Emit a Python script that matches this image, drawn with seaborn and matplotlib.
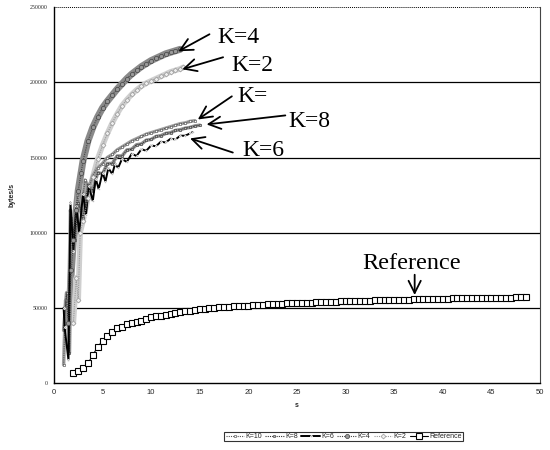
import matplotlib
matplotlib.use("Agg")
import matplotlib.pyplot as plt
import seaborn as sns

# ---------------- data ----------------
k10_x = [1.0, 1.2, 1.5, 1.7, 2.0, 2.4, 2.8, 3.2, 3.6, 4.0, 4.5, 5.0, 5.5, 6.0, 6.5,
         7.0, 7.5, 8.0, 8.5, 9.0, 9.5, 10.0, 10.5, 11.0, 11.5, 12.0, 12.5, 13.0, 13.5, 14.0, 14.5]
k10_y = [12000, 55000, 45000, 115000, 100000, 125000, 115000, 135000, 130000, 138000,
         143000, 146000, 150000, 152000, 155000, 157000, 159000, 161000, 162500, 164000,
         165500, 166500, 167500, 168500, 169500, 170500, 171500, 172500, 173000, 174000, 174500]

k8_x = [1.0, 1.3, 1.6, 1.8, 2.2, 2.5, 3.0, 3.5, 4.0, 4.5, 5.0, 5.5, 6.0, 6.5, 7.0, 7.5,
        8.0, 8.5, 9.0, 9.5, 10.0, 10.5, 11.0, 11.5, 12.0, 12.5, 13.0, 13.5, 14.0, 14.5, 15.0]
k8_y = [35000, 60000, 20000, 110000, 95000, 120000, 110000, 132000, 128000, 140000,
        139000, 146000, 146000, 151000, 151000, 155000, 155500, 158500, 159000, 161500,
        162000, 164000, 164500, 166000, 166500, 168000, 168500, 169500, 170000, 171000, 171500]

k6_x = [1.0, 1.1, 1.5, 1.7, 2.0, 2.3, 2.6, 3.0, 3.3, 3.6, 4.0, 4.3, 4.6, 5.0, 5.3, 5.6,
        6.0, 6.3, 6.6, 7.0, 7.5, 8.0, 8.5, 9.0, 9.5, 10.0, 10.5, 11.0, 11.5, 12.0, 12.5,
        13.0, 13.5, 14.0, 14.3]
k6_y = [50000, 37000, 15000, 120000, 88000, 118000, 100000, 126000, 112000, 131000,
        121000, 136000, 129000, 140000, 134000, 143000, 139000, 146000, 143000, 149000,
        147000, 152500, 151000, 155500, 154500, 158000, 157500, 160500, 160000, 162500,
        162000, 164500, 164500, 166000, 167000]

k4_x = [1.5, 1.8, 2.0, 2.3, 2.5, 2.8, 3.0, 3.5, 4.0, 4.5, 5.0, 5.5, 6.0, 6.5, 7.0, 7.5,
        8.0, 8.5, 9.0, 9.5, 10.0, 10.5, 11.0, 11.5, 12.0, 12.5, 13.0]
k4_y = [40000, 75000, 95000, 115000, 128000, 140000, 148000, 161000, 170000, 177000,
        183000, 187500, 191500, 195500, 199000, 202500, 205500, 208000, 210500, 212500,
        214500, 216000, 217500, 219000, 220000, 221000, 222000]

k2_x = [2.0, 2.3, 2.5, 2.7, 3.0, 3.5, 4.0, 4.5, 5.0, 5.5, 6.0, 6.5, 7.0, 7.5, 8.0, 8.5,
        9.0, 9.5, 10.0, 10.5, 11.0, 11.5, 12.0, 12.5, 13.0, 13.3]
k2_y = [40000, 70000, 55000, 100000, 108000, 123000, 137000, 149000, 158000, 166000,
        173000, 179000, 184500, 188500, 192000, 195000, 197500, 199500, 201000, 202500,
        204000, 205500, 207000, 208000, 209000, 210000]

ref_y = [6500, 8000, 10000, 13000, 18500, 24000, 28000, 31500, 34000, 36500,
         37500, 39000, 40000, 40800, 41500, 42800, 44000, 44300, 44700, 45400,
         46000, 46600, 47200, 47700, 48200, 48600, 49000, 49300, 49600, 49900,
         50200, 50400, 50700, 50900, 51100, 51300, 51500, 51700, 51900, 52100,
         52300, 52400, 52600, 52700, 52900, 53000, 53200, 53300, 53400, 53500,
         53700, 53800, 53900, 54000, 54100, 54200, 54300, 54400, 54500, 54600,
         54700, 54800, 54900, 55000, 55100, 55200, 55300, 55400, 55500, 55500,
         55600, 55700, 55800, 55800, 55900, 56000, 56000, 56100, 56200, 56200,
         56300, 56400, 56400, 56500, 56500, 56600, 56600, 56700, 56700, 56800,
         56800, 56900, 56900, 57000]
ref_x = [2.0 + 0.5 * i for i in range(len(ref_y))]

y_ticks = [0, 50000, 100000, 150000, 200000, 250000]
x_ticks = [0, 5, 10, 15, 20, 25, 30, 35, 40, 45, 50]

# annotations: (label, text pos, arrow tail, arrow tip)
notes = [
    ("K=4", (16.8, 230000), (16.0, 232000), (12.8, 220700)),
    ("K=2", (18.3, 211300), (17.4, 216700), (13.2, 208700)),
    ("K=", (18.9, 190700), (18.3, 190700), (14.8, 175300)),
    ("K=8", (24.1, 174000), (23.8, 178000), (15.7, 172000)),
    ("K=6", (19.4, 154700), (18.4, 153300), (14.0, 162700)),
]
ref_note = ("Reference", (36.8, 79300), (37.1, 72000), (37.1, 58500))

# ---------------- plot ----------------
sns.set_style("white")
plt.rcParams["font.family"] = ["Liberation Sans", "DejaVu Sans"]

fig = plt.figure(figsize=(5.5, 4.5), dpi=100)
ax = fig.add_axes([0.098, 0.149, 0.884, 0.835])

# textured bands (underlays, no legend entry)
sns.lineplot(x=k4_x, y=k4_y, ax=ax, color="#8a8a8a", lw=5, sort=False, legend=False)
sns.lineplot(x=k2_x, y=k2_y, ax=ax, color="#cfcfcf", lw=4, sort=False, legend=False)
sns.lineplot(x=k10_x, y=k10_y, ax=ax, color="#a0a0a0", lw=2.5, sort=False, legend=False)
sns.lineplot(x=k8_x, y=k8_y, ax=ax, color="#909090", lw=2.5, sort=False, legend=False)

sns.lineplot(x=k10_x, y=k10_y, ax=ax, label="K=10", color="#555555", lw=0.8,
             linestyle=(0, (1, 1)), marker="o", markersize=1.8, markerfacecolor="white",
             markeredgecolor="#444444", markeredgewidth=0.4, sort=False)
sns.lineplot(x=k8_x, y=k8_y, ax=ax, label="K=8", color="#333333", lw=0.8,
             linestyle=(0, (1, 1)), marker="o", markersize=1.8, markerfacecolor="#bbbbbb",
             markeredgecolor="#333333", markeredgewidth=0.4, sort=False)
sns.lineplot(x=k6_x, y=k6_y, ax=ax, label="K=6", color="black", lw=1.4,
             marker="o", markersize=1.2, sort=False)
sns.lineplot(x=k4_x, y=k4_y, ax=ax, label="K=4", color="#444444", lw=0.8,
             linestyle=(0, (1, 1)), marker="o", markersize=3, markerfacecolor="#9a9a9a",
             markeredgecolor="#444444", markeredgewidth=0.5, sort=False)
sns.lineplot(x=k2_x, y=k2_y, ax=ax, label="K=2", color="#999999", lw=0.8,
             linestyle=(0, (1, 1)), marker="D", markersize=2.5, markerfacecolor="#eeeeee",
             markeredgecolor="#999999", markeredgewidth=0.5, sort=False)
sns.lineplot(x=ref_x, y=ref_y, ax=ax, label="Reference", color="black", lw=0.8,
             marker="s", markersize=4, markerfacecolor="white",
             markeredgecolor="black", markeredgewidth=0.8, sort=False)

ax.set_xlim(0, 50)
ax.set_ylim(0, 250000)
ax.set_xticks(x_ticks)
ax.set_yticks(y_ticks)
ax.set_xticklabels([str(v) for v in x_ticks], fontsize=5.5)
ax.set_yticklabels([str(v) for v in y_ticks], fontsize=4.2, family=["Liberation Serif"])
ax.tick_params(axis="both", direction="out", length=2.5, width=0.8, color="black", pad=2)
ax.set_xlabel("s", fontsize=5, fontweight="bold", labelpad=4)
ax.set_ylabel("bytes/s", fontsize=5, fontweight="bold", labelpad=10)

ax.yaxis.grid(True, color="black", lw=0.9)
ax.xaxis.grid(False)
gl = ax.get_ygridlines()
gl[-1].set_linestyle((0, (1, 1)))
gl[-1].set_linewidth(0.7)
gl[0].set_visible(False)

for s in ["left", "bottom"]:
    ax.spines[s].set_color("black")
    ax.spines[s].set_linewidth(1.0)
ax.spines["top"].set_visible(False)
ax.spines["right"].set_linestyle((0, (1, 1)))
ax.spines["right"].set_color("#444444")
ax.spines["right"].set_linewidth(0.8)

for label, tpos, tail, tip in notes + [ref_note]:
    ax.annotate("", xy=tip, xytext=tail,
                arrowprops=dict(arrowstyle="->", lw=1.3, color="black",
                                mutation_scale=22, shrinkA=0, shrinkB=0))
    ax.text(tpos[0], tpos[1], label, fontsize=17 if label != "Reference" else 17.5,
            family=["Liberation Serif"], ha="left" if label != "Reference" else "center",
            va="center", color="black")

handles, labels = ax.get_legend_handles_labels()
ax.get_legend().remove()
leg = fig.legend(handles, labels, loc="center", bbox_to_anchor=(0.625, 0.030), ncol=6,
                 fontsize=5, frameon=True, fancybox=False, edgecolor="black",
                 handlelength=2.6, columnspacing=0.5, borderpad=0.2,
                 handletextpad=0.25, borderaxespad=0)
leg.get_frame().set_linewidth(0.8)

fig.savefig("out.png", dpi=100)
